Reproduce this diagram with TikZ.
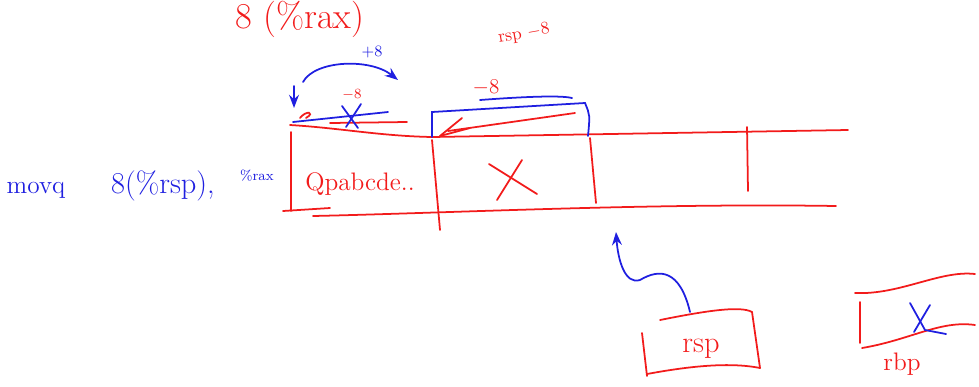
\documentclass[tikz,border=0pt]{standalone}
\usepackage{xcolor}
\usetikzlibrary{arrows.meta,positioning}
\definecolor{penred}{HTML}{F21B1B}
\definecolor{penblue}{HTML}{1F1FE0}

\begin{document}
\begin{tikzpicture}[x=0.02cm, y=-0.02cm, line width=1pt, >=Stealth, line cap=round,
    note/.style={inner sep=1pt}]
  \useasboundingbox (0,0) rectangle (979,386);

  % memory row
  \draw[penred] (290,125) .. controls (340,128) and (380,136) .. (432,137) -- (848,130);
  \draw[penred] (313,216) .. controls (450,213) and (650,203) .. (836,206);
  \draw[penred] (283,211) -- (330,208);
  \draw[penred] (291,132) -- (291,211);
  \draw[penred] (432,140) -- (440,230);
  \draw[penred] (590,138) -- (596,203);
  \draw[penred] (747,127) -- (748,191);
  \draw[penred] (489,164) -- (537,194);
  \draw[penred] (522,160) -- (497,200);

  \node[penred, font=\Large] (bytes) at (360,184) {Qpabcde..};

  % top notes
  \node[note, penred, font=\huge] (srcop) at (300,19) {8 (\%rax)};
  \node[note, penred, font=\normalsize, rotate=10] (rspnote) at (524,34) {rsp $-8$};

  % +8 hop and first slot
  \node[note, penblue, font=\small] (plus) at (372,52) {$+8$};
  \draw[penblue, ->] (303,82) .. controls (315,60) and (370,58) .. (398,80);
  \draw[penblue, ->] (294,86) -- (294,108);
  \node[note, penred, font=\footnotesize] (minusa) at (352,95) {$-8$};
  \draw[penred] (300,118) .. controls (306,110) and (316,112) .. (306,118);
  \draw[penred] (330,123) -- (407,122);
  \draw[penblue] (293,122) -- (388,112);
  \draw[penblue] (342,106) -- (358,128);
  \draw[penblue] (361,104) -- (346,127);

  % -8 slot
  \node[note, penred, font=\large] (minusb) at (486,88) {$-8$};
  \draw[penblue] (480,100) .. controls (520,97) and (560,95) .. (572,98);
  \draw[penblue] (432,137) -- (432,112) -- (585,103) .. controls (590,115) .. (588,136);
  \draw[penred] (575,113) -- (448,131);
  \draw[penred] (440,136) -- (462,118);
  \draw[penred] (440,136) -- (470,128);

  % instruction
  \node[penblue, font=\Large] (mnem) at (36,190) {movq};
  \node[penblue, font=\LARGE] (srcarg) at (163,186) {8(\%rsp),};
  \node[penblue, font=\footnotesize] (dstarg) at (257,176) {\%rax};

  % registers
  \draw[penred] (642,333) -- (647,376);
  \draw[penred] (660,320) .. controls (700,312) and (740,305) .. (752,312) -- (760,368);
  \draw[penred] (647,374) .. controls (690,366) and (730,362) .. (760,368);
  \node[penred, font=\LARGE] (rspreg) at (701,349) {rsp};
  \coordinate (rsptop) at (690,312);
  \draw[penblue, ->] (rsptop) .. controls (680,270) and (660,268) .. (640,280) .. controls (625,285) and (618,260) .. (616,232);

  \draw[penred] (860,302) -- (860,343);
  \draw[penred] (855,293) .. controls (900,295) and (940,270) .. (975,274);
  \draw[penred] (862,348) .. controls (910,340) and (940,320) .. (975,325);
  \draw[penblue] (910,303) -- (925,330) -- (946,334);
  \draw[penblue] (930,305) -- (914,332);
  \node[penred, font=\Large] (rbpreg) at (902,364) {rbp};
\end{tikzpicture}
\end{document}
